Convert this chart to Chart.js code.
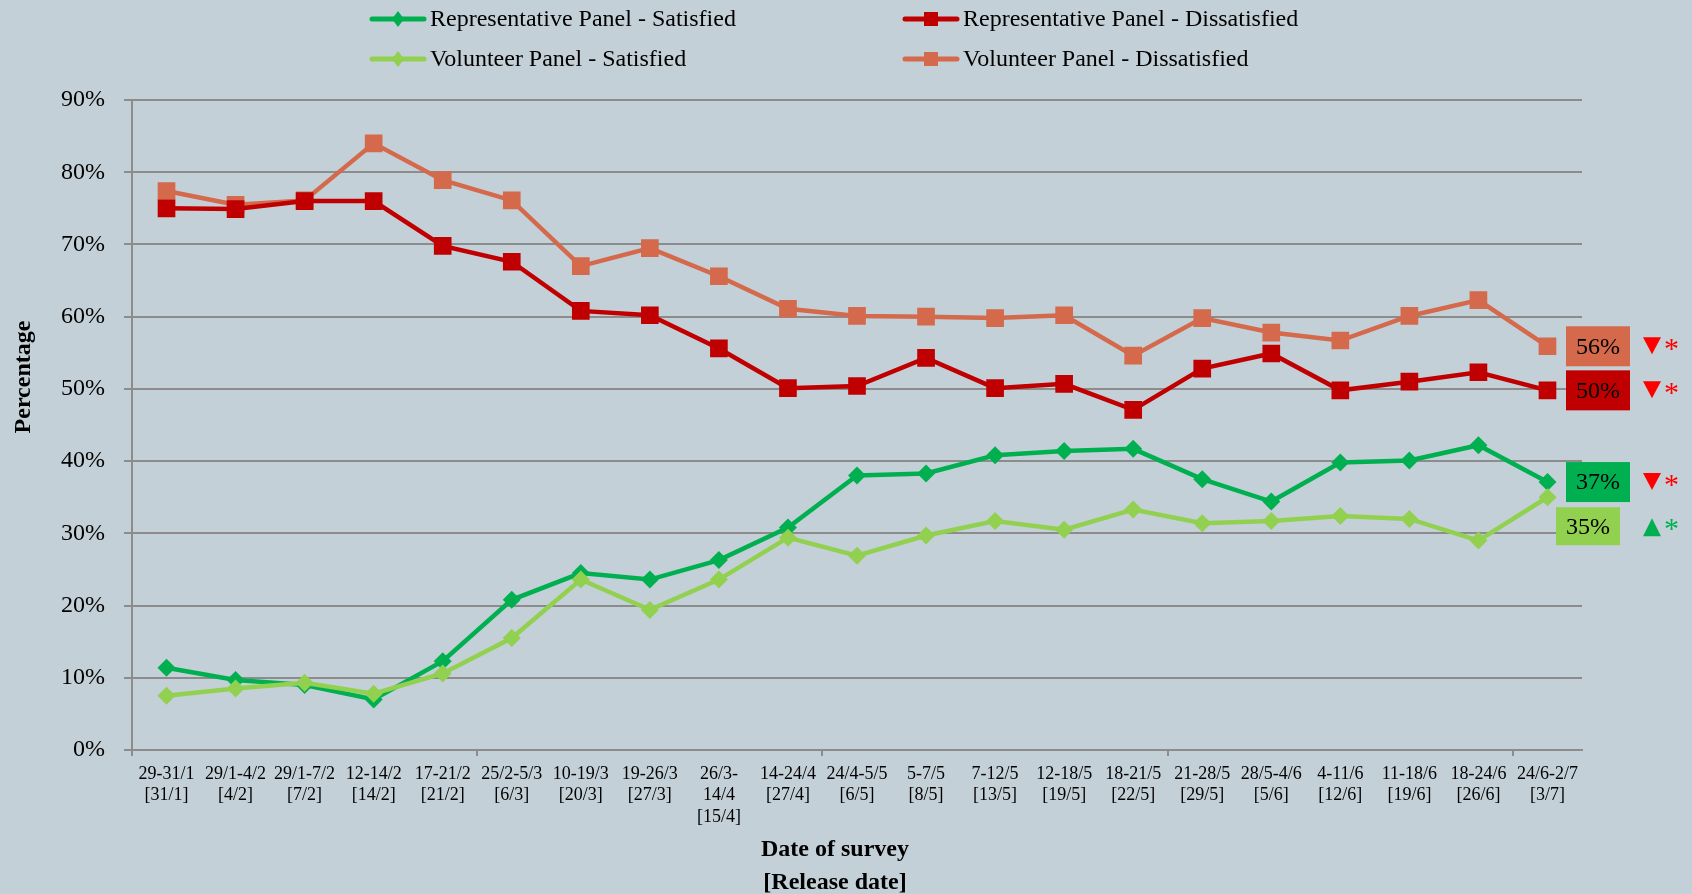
<!DOCTYPE html>
<html>
<head>
<meta charset="utf-8">
<title>Satisfied / Dissatisfied by panel</title>
<script src="https://cdn.jsdelivr.net/npm/chart.js@4.4.1/dist/chart.umd.min.js"></script>
<style>
    html, body { margin: 0; padding: 0; background: #c4d0d7; }
    #wrap { width: 1692px; height: 894px; }
</style>
</head>
<body>
<div id="wrap"><canvas id="surveyChart" width="1692" height="894"></canvas></div>
<script>
// Survey window, with the release date underneath
const surveyDates = [
    ['29-31/1', '[31/1]'], ['29/1-4/2', '[4/2]'], ['29/1-7/2', '[7/2]'], ['12-14/2', '[14/2]'],
    ['17-21/2', '[21/2]'], ['25/2-5/3', '[6/3]'], ['10-19/3', '[20/3]'], ['19-26/3', '[27/3]'],
    ['26/3-', '14/4', '[15/4]'], ['14-24/4', '[27/4]'], ['24/4-5/5', '[6/5]'], ['5-7/5', '[8/5]'],
    ['7-12/5', '[13/5]'], ['12-18/5', '[19/5]'], ['18-21/5', '[22/5]'], ['21-28/5', '[29/5]'],
    ['28/5-4/6', '[5/6]'], ['4-11/6', '[12/6]'], ['11-18/6', '[19/6]'], ['18-24/6', '[26/6]'],
    ['24/6-2/7', '[3/7]']
];

const repSatisfied    = [11.4, 9.7, 9.0, 7.0, 12.3, 20.8, 24.5, 23.6, 26.3, 30.8, 38.0, 38.3, 40.8, 41.4, 41.7, 37.5, 34.4, 39.8, 40.1, 42.2, 37.1];
const repDissatisfied = [75.0, 74.9, 76.0, 76.0, 69.8, 67.6, 60.8, 60.2, 55.6, 50.1, 50.4, 54.3, 50.1, 50.7, 47.1, 52.8, 54.9, 49.8, 51.0, 52.3, 49.8];
const volSatisfied    = [7.5, 8.5, 9.3, 7.8, 10.6, 15.5, 23.6, 19.4, 23.6, 29.4, 26.9, 29.7, 31.7, 30.5, 33.3, 31.4, 31.7, 32.4, 32.0, 29.0, 35.0];
const volDissatisfied = [77.4, 75.5, 76.1, 84.0, 78.9, 76.1, 67.0, 69.5, 65.6, 61.1, 60.1, 60.0, 59.8, 60.2, 54.6, 59.8, 57.8, 56.7, 60.1, 62.3, 55.9];

const seriesNames = [
    'Representative Panel - Satisfied',
    'Representative Panel - Dissatisfied',
    'Volunteer Panel - Satisfied',
    'Volunteer Panel - Dissatisfied'
];
// change since the previous survey, shown next to the latest value
const latestTrend = ['down', 'down', 'up', 'down'];

const yTicks = [0, 10, 20, 30, 40, 50, 60, 70, 80, 90];

const serif = "'Liberation Serif', 'Times New Roman', serif";
const green = '#00b050', lightGreen = '#92d050', darkRed = '#c00000', orange = '#d4694b';
const gridGrey = '#8c8c8c';

Chart.defaults.font.family = serif;
Chart.defaults.color = '#000';

// legend in a 2 x 2 grid above the plot
const gridLegend = {
    id: 'gridLegend',
    afterDraw(chart) {
        const ctx = chart.ctx;
        const cols = [370, 903];
        const rows = [19, 59];
        chart.data.datasets.forEach((ds, i) => {
            const x = cols[i % 2], y = rows[Math.floor(i / 2)];
            ctx.save();
            ctx.strokeStyle = ds.borderColor;
            ctx.lineWidth = 5;
            ctx.lineCap = 'round';
            ctx.beginPath();
            ctx.moveTo(x + 2, y);
            ctx.lineTo(x + 54, y);
            ctx.stroke();
            ctx.fillStyle = ds.borderColor;
            ctx.beginPath();
            if (ds.pointStyle === 'rect') {
                ctx.rect(x + 21, y - 7, 14, 14);
            } else {
                ctx.moveTo(x + 28, y - 8);
                ctx.lineTo(x + 34, y);
                ctx.lineTo(x + 28, y + 8);
                ctx.lineTo(x + 22, y);
                ctx.closePath();
            }
            ctx.fill();
            ctx.fillStyle = '#000';
            ctx.font = '24px ' + serif;
            ctx.textBaseline = 'middle';
            ctx.fillText(ds.label, x + 60, y + 1);
            ctx.restore();
        });
    }
};

// axis titles, value boxes and trend arrows
const extras = {
    id: 'extras',
    beforeDraw(chart) {
        const ctx = chart.ctx;
        ctx.save();
        ctx.fillStyle = '#c4d0d7';
        ctx.fillRect(0, 0, chart.width, chart.height);
        ctx.restore();
    },
    afterDraw(chart) {
        const ctx = chart.ctx;
        const area = chart.chartArea;
        ctx.save();
        ctx.fillStyle = '#000';
        ctx.font = 'bold 24px ' + serif;
        ctx.textAlign = 'center';
        ctx.textBaseline = 'middle';
        ctx.fillText('Date of survey', 835, 850);
        ctx.fillText('[Release date]', 835, 883);
        ctx.translate(24, 377);
        ctx.rotate(-Math.PI / 2);
        ctx.fillText('Percentage', 0, 0);
        ctx.restore();

        chart.data.datasets.forEach((ds, i) => {
            const meta = chart.getDatasetMeta(i);
            const last = meta.data[meta.data.length - 1];
            const value = ds.data[ds.data.length - 1];
            // the light green box is pushed down so it clears the dark green one
            const shift = i === 2 ? 29 : 0;
            const left = i === 2 ? area.right - 26 : area.right - 16;
            const cy = last.y + shift;
            const h = i === 2 ? 38 : 40;
            ctx.save();
            ctx.fillStyle = ds.borderColor;
            ctx.fillRect(left, cy - h / 2, 64, h);
            ctx.fillStyle = '#000';
            ctx.font = '24px ' + serif;
            ctx.textAlign = 'center';
            ctx.textBaseline = 'middle';
            ctx.fillText(Math.round(value) + '%', left + 32, cy + 1);

            const up = latestTrend[i] === 'up';
            const tx = 1652;
            ctx.fillStyle = up ? green : '#ff0000';
            ctx.beginPath();
            if (up) {
                ctx.moveTo(tx - 9, cy + 10);
                ctx.lineTo(tx + 9, cy + 10);
                ctx.lineTo(tx, cy - 8);
            } else {
                ctx.moveTo(tx - 9, cy - 9);
                ctx.lineTo(tx + 9, cy - 9);
                ctx.lineTo(tx, cy + 8);
            }
            ctx.closePath();
            ctx.fill();
            ctx.font = '30px ' + serif;
            ctx.textAlign = 'left';
            ctx.fillText('*', 1664, cy + 4);
            ctx.restore();
        });
    }
};

const ctx = document.getElementById('surveyChart').getContext('2d');

new Chart(ctx, {
    type: 'line',
    data: {
        labels: surveyDates,
        datasets: [
            { label: seriesNames[0], data: repSatisfied, borderColor: green, backgroundColor: green, pointStyle: 'rectRot', pointRadius: 9, order: 2 },
            { label: seriesNames[1], data: repDissatisfied, borderColor: darkRed, backgroundColor: darkRed, pointStyle: 'rect', pointRadius: 12.5, order: 3 },
            { label: seriesNames[2], data: volSatisfied, borderColor: lightGreen, backgroundColor: lightGreen, pointStyle: 'rectRot', pointRadius: 9, order: 1 },
            { label: seriesNames[3], data: volDissatisfied, borderColor: orange, backgroundColor: orange, pointStyle: 'rect', pointRadius: 12.5, order: 4 }
        ].map(ds => Object.assign(ds, {
            borderWidth: 4.5,
            tension: 0,
            fill: false,
            pointBorderWidth: 0,
            pointHoverRadius: ds.pointRadius
        }))
    },
    options: {
        responsive: false,
        animation: false,
        layout: { padding: { top: 100, right: 110, bottom: 0, left: 0 } },
        plugins: {
            legend: { display: false },
            tooltip: { enabled: false }
        },
        scales: {
            x: {
                offset: true,
                afterFit: (scale) => { scale.height = 144; },
                grid: {
                    offset: true,
                    drawOnChartArea: false,
                    tickLength: 6,
                    lineWidth: 2,
                    color: (c) => (c.index % 5 === 0 ? gridGrey : 'rgba(0,0,0,0)')
                },
                border: { display: true, color: gridGrey, width: 2 },
                ticks: {
                    autoSkip: false,
                    maxRotation: 0,
                    padding: 7,
                    color: '#000',
                    font: { size: 18, lineHeight: 1.2 }
                }
            },
            y: {
                min: 0,
                max: 90,
                afterFit: (scale) => { scale.width = 132; },
                afterBuildTicks: (scale) => { scale.ticks = yTicks.map(v => ({ value: v })); },
                grid: { color: gridGrey, lineWidth: 2, tickLength: 8 },
                border: { display: true, color: gridGrey, width: 2 },
                ticks: {
                    padding: 19,
                    color: '#000',
                    font: { size: 24 },
                    callback: (v) => v + '%'
                }
            }
        }
    },
    plugins: [extras, gridLegend]
});
</script>
</body>
</html>
